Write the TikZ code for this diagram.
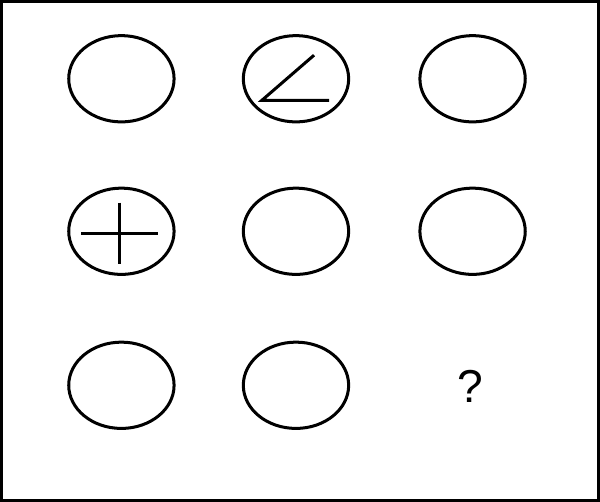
\documentclass[tikz,border=0pt]{standalone}
\usepackage{fontspec}
\setmainfont{Liberation Sans}
\usetikzlibrary{shapes.geometric}
\begin{document}
\begin{tikzpicture}[x=1pt,y=-1pt,
  cell/.style={draw,line width=3pt,ellipse,minimum width=105pt,minimum height=86pt,inner sep=0pt},
  glyphline/.style={line width=3pt}]
\useasboundingbox (0,0) rectangle (598,500);
\draw[line width=3pt] (1.5,1.5) rectangle (596.5,498.5);
\node[cell] (a1) at (121,78.5) {};
\node[cell] (a2) at (295,78.5) {};
\node[cell] (a3) at (471,78.5) {};
\node[cell] (b1) at (121,230.5) {};
\node[cell] (b2) at (295,230.5) {};
\node[cell] (b3) at (471,230.5) {};
\node[cell] (c1) at (121,384) {};
\node[cell] (c2) at (295,384) {};
\node[font=\fontsize{46}{50}\selectfont,inner sep=0pt] (q) at (468.5,385) {?};
\draw[glyphline] (313,55) -- (261,100) -- (328,100);
\draw[glyphline] (81,233) -- (157,233);
\draw[glyphline] (119,202) -- (119,263);
\end{tikzpicture}
\end{document}
